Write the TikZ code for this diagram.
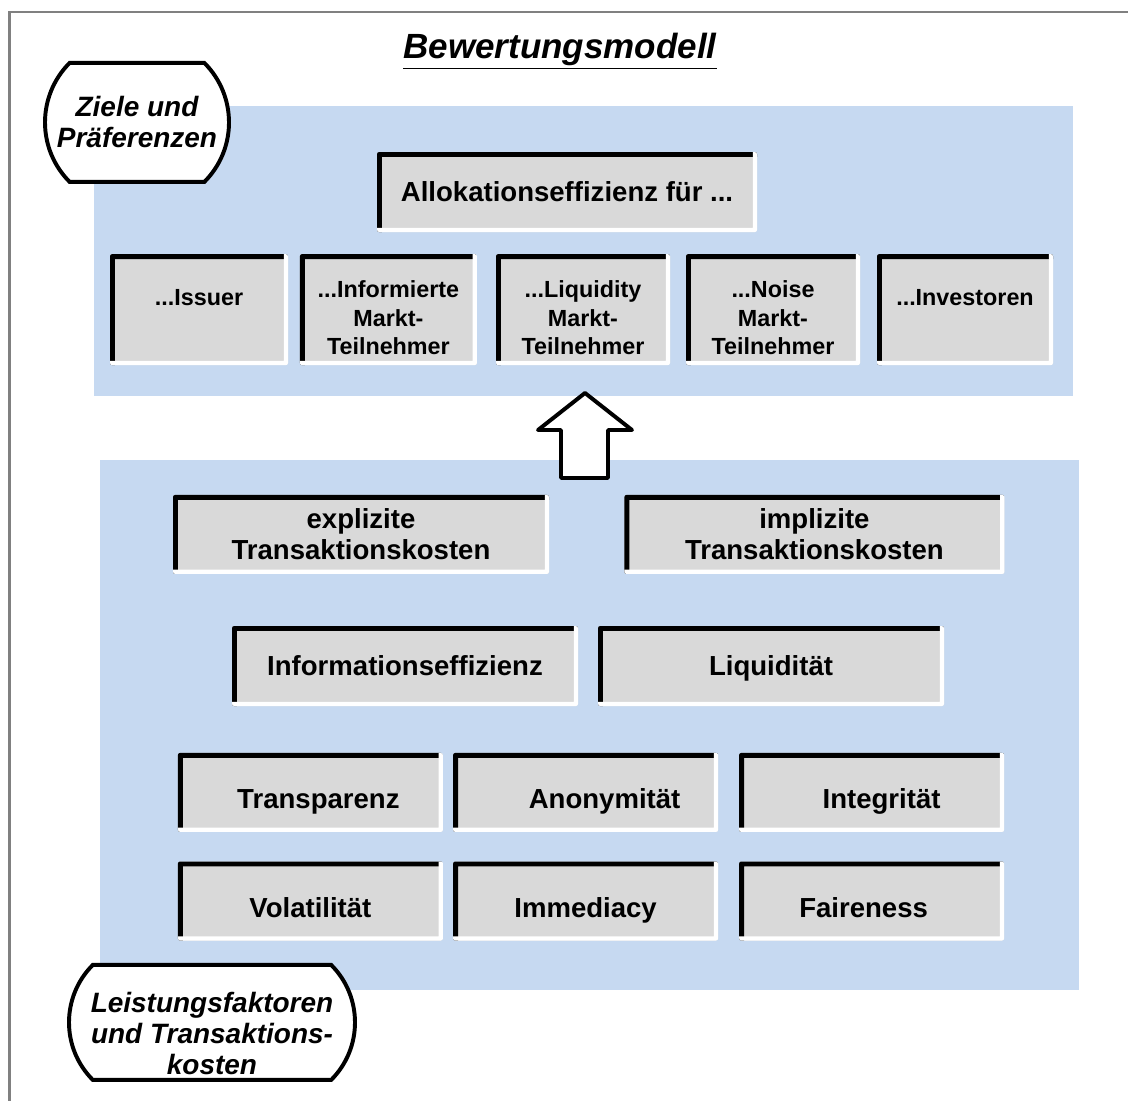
\documentclass[tikz,border=0pt]{standalone}
\usepackage{fontspec}
\setmainfont{Liberation Sans}
\usepackage{tikz}
\usetikzlibrary{shapes.misc}

\definecolor{panelblau}{HTML}{C6D9F1}
\definecolor{feldgrau}{HTML}{D9D9D9}
\definecolor{rahmengrau}{HTML}{808080}

\tikzset{
  feld/.style={fill=feldgrau, rounded corners=1.5pt, inner sep=0pt, align=center,
    font=\fontsize{19.6}{22}\selectfont\bfseries,
    path picture={
      \draw[black, line width=7pt] (path picture bounding box.south west) -- (path picture bounding box.north west) -- (path picture bounding box.north east);
      \draw[white, line width=6pt] (path picture bounding box.north east) -- (path picture bounding box.south east) -- (path picture bounding box.south west);
    }},
  klein/.style={font=\fontsize{16.6}{20.6}\selectfont\bfseries},
  einzeilig/.style={text height=18pt, text depth=4pt},
  tief/.style={text height=27.3pt, text depth=4pt},
  oben/.style={text height=12pt, text depth=17.8pt},
  etikett/.style={draw, line width=2.8pt, fill=white, rounded rectangle, rounded rectangle arc length=90,
    inner sep=0pt, align=center, font=\fontsize{19.9}{22}\selectfont\bfseries\itshape}
}

\begin{document}
\begin{tikzpicture}
    \useasboundingbox (0,0) rectangle (28.2,-27.5);

    % Rahmen
    \draw[rahmengrau, line width=2.1pt] (0.24,-28) -- (0.24,-0.3) -- (28.5,-0.3);
    \node[font=\fontsize{24.9}{28}\selectfont\bfseries\itshape] (titel) at (14,-1.28) {\underline{Bewertungsmodell}};

    % Panels
    \fill[panelblau] (2.35,-2.65) rectangle (26.825,-9.9);
    \fill[panelblau] (2.5,-11.5) rectangle (26.975,-24.75);

    % Ziele und Praeferenzen
    \node[feld, einzeilig, minimum width=9.5cm, minimum height=2cm] (allokation) at (14.175,-4.8) {Allokationseffizienz für ...};
    \node[feld, klein, oben, minimum width=4.45cm, minimum height=2.775cm] (issuer) at (4.975,-7.74) {...Issuer};
    \node[feld, klein, minimum width=4.425cm, minimum height=2.775cm] (informiert) at (9.71,-7.74) {\rule{0pt}{23.5pt}...Informierte\\Markt-\\Teilnehmer};
    \node[feld, klein, minimum width=4.35cm, minimum height=2.775cm] (liquidity) at (14.575,-7.74) {\rule{0pt}{23.5pt}...Liquidity\\Markt-\\Teilnehmer};
    \node[feld, klein, minimum width=4.35cm, minimum height=2.775cm] (noise) at (19.325,-7.74) {\rule{0pt}{23.5pt}...Noise\\Markt-\\Teilnehmer};
    \node[feld, klein, oben, minimum width=4.4cm, minimum height=2.775cm] (investoren) at (24.125,-7.74) {...Investoren};

    % Pfeil
    \draw[line width=2.8pt, fill=white, line join=round] (14.625,-9.825) -- (15.8,-10.75) -- (15.2,-10.75) -- (15.2,-11.95)
        -- (14.025,-11.95) -- (14.025,-10.75) -- (13.45,-10.75) -- cycle;

    % Leistungsfaktoren und Transaktionskosten
    \node[feld, minimum width=9.4cm, minimum height=1.975cm] (explizit) at (9.025,-13.36) {explizite\\Transaktionskosten};
    \node[feld, minimum width=9.5cm, minimum height=1.975cm] (implizit) at (20.36,-13.36) {implizite\\Transaktionskosten};
    \node[feld, einzeilig, minimum width=8.65cm, minimum height=2cm] (infoeff) at (10.125,-16.65) {Informationseffizienz};
    \node[feld, einzeilig, minimum width=8.65cm, minimum height=2cm] (liquiditaet) at (19.275,-16.65) {Liquidität};
    \node[feld, tief, minimum width=6.625cm, minimum height=1.975cm] (transparenz) at (7.76,-19.81) {\hspace*{0.4cm}Transparenz};
    \node[feld, tief, minimum width=6.625cm, minimum height=1.975cm] (anonymitaet) at (14.64,-19.81) {\hspace*{0.95cm}Anonymität};
    \node[feld, tief, minimum width=6.625cm, minimum height=1.975cm] (integritaet) at (21.79,-19.81) {\hspace*{0.5cm}Integrität};
    \node[feld, tief, minimum width=6.625cm, minimum height=1.975cm] (volatilitaet) at (7.76,-22.525) {Volatilität};
    \node[feld, tief, minimum width=6.625cm, minimum height=1.975cm] (immediacy) at (14.64,-22.525) {Immediacy};
    \node[feld, tief, minimum width=6.625cm, minimum height=1.975cm] (fairness) at (21.79,-22.525) {Faireness\hspace*{0.4cm}};

    % Etiketten
    \node[etikett, minimum width=4.6cm, minimum height=2.975cm] (ziele) at (3.425,-3.06) {Ziele und\\Präferenzen};
    \node[etikett, minimum width=7.15cm, minimum height=2.875cm] (leistung) at (5.3,-25.56) {\rule{0pt}{30pt}Leistungsfaktoren\\und Transaktions-\\kosten};
\end{tikzpicture}
\end{document}
